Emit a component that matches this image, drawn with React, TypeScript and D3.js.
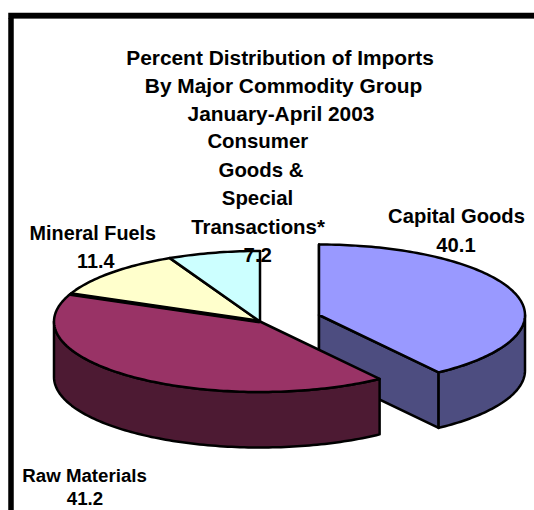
import React from "react";
import * as d3 from "d3";

const categories = ["Capital Goods", "Raw Materials", "Mineral Fuels", "Consumer Goods & Special Transactions*"];
const shares = [40.1, 41.2, 11.4, 7.2];
const topColors = ["#9999ff", "#993366", "#ffffcc", "#ccffff"];
const sideColors = ["#4d4d80", "#4d1a33", "#808066", "#668080"];
const titleLines = ["Percent Distribution of Imports", "By Major Commodity Group", "January-April 2003"];
const labelLines = [
  ["Capital Goods", "40.1"],
  ["Raw Materials", "41.2"],
  ["Mineral Fuels", "11.4"],
  ["Consumer", "Goods &", "Special", "Transactions*", "7.2"],
];

const W = 534;
const H = 510;
const FONT = "'Liberation Sans', Arial, sans-serif";

// Pie layout in tilted-disc coordinates: x radius, y radius and wall height.
const RX = 206;
const RY = 70.5;
const DEPTH = 55.5;
const CX = 260;
const CY = 321.5;
const EXPLODE = [{ dx: 59, dy: -6.5 }, { dx: 0, dy: 0 }, { dx: 0, dy: 0 }, { dx: 0, dy: 0 }];

// Title line anchors.
const titleAnchors = [[280, 65], [283.5, 93], [281, 121]];

// Hand-placed text anchors for each data label, one per line.
const labelAnchors = [
  { size: 20.2, pos: [[456.5, 222.7], [456, 251.7]] },
  { size: 18.7, pos: [[84.6, 482], [85, 505]] },
  { size: 19.8, pos: [[92.8, 240], [95.7, 268]] },
  { size: 20.4, pos: [[257.8, 148], [261, 177], [257.5, 205], [258, 234], [257.8, 262]] },
];

const xScale = d3.scaleLinear().domain([-1, 1]).range([-RX, RX]);
const yScale = d3.scaleLinear().domain([-1, 1]).range([-RY, RY]);

const arcs = d3.pie<number>().sort(null).startAngle(0).endAngle(2 * Math.PI)(shares);

const rim = (a: number) => ({ x: xScale(Math.sin(a)), y: yScale(-Math.cos(a)) });

// Elliptical arc along the rim, sampled so every edge stays on the scales.
function rimPoints(a0: number, a1: number) {
  const n = Math.max(2, Math.ceil(Math.abs(a1 - a0) / 0.02));
  return d3.range(n + 1).map((i) => rim(a0 + ((a1 - a0) * i) / n));
}

const line = d3.line<{ x: number; y: number }>().x((p) => p.x).y((p) => p.y);

function topPath(a0: number, a1: number) {
  return line([{ x: 0, y: 0 }, ...rimPoints(a0, a1)]) + "Z";
}

function wallPath(a0: number, a1: number) {
  const pts = rimPoints(a0, a1);
  const lower = pts.slice().reverse().map((p) => ({ x: p.x, y: p.y + DEPTH }));
  return line([...pts, ...lower]) + "Z";
}

// Flat cut wall running from the centre out to the rim at angle a.
function cutPath(a: number) {
  const p = rim(a);
  return line([
    { x: 0, y: 0 },
    p,
    { x: p.x, y: p.y + DEPTH },
    { x: 0, y: DEPTH },
  ]) + "Z";
}

const HALF = Math.PI / 2;

export default function App() {
  const stroke = { stroke: "#000", strokeWidth: 2.5, strokeLinejoin: "round" as const };
  const rawEnd = rim(arcs[1].endAngle);
  return (
    <svg
      width={W}
      height={H}
      viewBox={`0 0 ${W} ${H}`}
      style={{ position: "absolute", left: 0, top: 0, display: "block" }}
    >
      <rect width={W} height={H} fill="#fff" />
      {/* Frame: only the top and left edges fall inside the page */}
      <rect x={8} y={18} width={W - 8} height={1} fill="#808080" />
      <path d={`M11 ${H} V15.5 H${W}`} fill="none" stroke="#000" strokeWidth={5.5} />

      <g fontFamily={FONT} fontWeight={700} fontSize={20.9} fill="#000" textAnchor="middle">
        {titleLines.map((t, i) => (
          <text key={t} x={titleAnchors[i][0]} y={titleAnchors[i][1]}>{t}</text>
        ))}
      </g>

      {arcs.map((d, i) => {
        const o = EXPLODE[i];
        return (
          <g key={categories[i]} transform={`translate(${CX + o.dx},${CY + o.dy})`}>
            {i === 0 && <path d={cutPath(0)} fill={sideColors[i]} {...stroke} />}
            {i === 0 && <path d={cutPath(d.endAngle)} fill={sideColors[i]} {...stroke} />}
            {d.startAngle < HALF * 2 && (
              <path
                d={wallPath(Math.max(d.startAngle, HALF), Math.min(d.endAngle, HALF * 3))}
                fill={sideColors[i]}
                {...stroke}
              />
            )}
            <path d={topPath(d.startAngle, d.endAngle)} fill={topColors[i]} {...stroke} />
          </g>
        );
      })}

      {/* Heavier seam between the raw materials and mineral fuels slices */}
      <line
        x1={CX}
        y1={CY}
        x2={CX + rawEnd.x}
        y2={CY + rawEnd.y}
        stroke="#000"
        strokeWidth={4}
      />

      <g fontFamily={FONT} fontWeight={700} fill="#000" textAnchor="middle">
        {labelLines.map((lines, k) =>
          lines.map((t, i) => (
            <text
              key={t}
              x={labelAnchors[k].pos[i][0]}
              y={labelAnchors[k].pos[i][1]}
              fontSize={labelAnchors[k].size}
            >
              {t}
            </text>
          ))
        )}
      </g>
    </svg>
  );
}
